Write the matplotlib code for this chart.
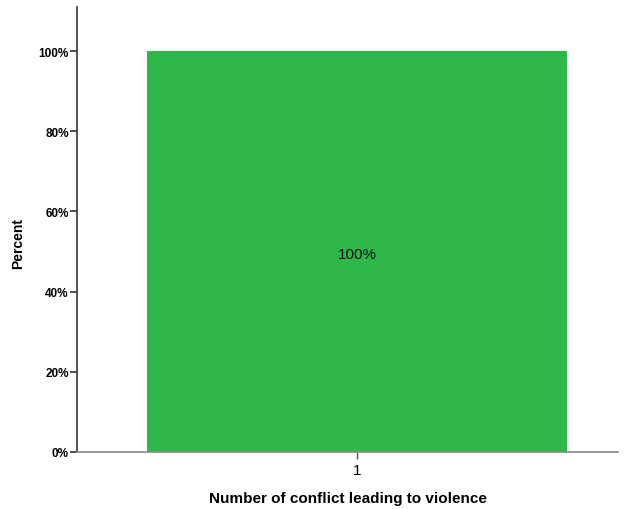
import matplotlib.pyplot as plt
import numpy as np

plt.rcParams['font.family'] = ['Liberation Sans', 'DejaVu Sans']

categories = ['1']
percent = [100]

fig = plt.figure(figsize=(6.32, 5.1), dpi=100)
ax = fig.add_axes([77/632, 57/510, 541/632, 445/510])

x = np.arange(len(categories))
bars = ax.bar(x, percent, width=1.0, color='#2fb84a', edgecolor='none')

for xi, v in zip(x, percent):
    ax.text(xi, v/2 - 0.7, '%d%%' % v, ha='center', va='center', fontsize=11, color='#111111')

ax.set_xlim(-0.667, 0.621)
ax.set_ylim(0, 111)
ax.set_xticks(x)
ax.set_xticklabels(categories, fontsize=11)
ax.set_yticks([0, 20, 40, 60, 80, 100])
ax.set_yticklabels(['%d%%' % t for t in [0, 20, 40, 60, 80, 100]], fontsize=8.5, fontweight='bold')

ax.spines['top'].set_visible(False)
ax.spines['right'].set_visible(False)
ax.spines['left'].set_color('#333333')
ax.spines['bottom'].set_color('#888888')
ax.spines['left'].set_linewidth(1.2)
ax.spines['bottom'].set_linewidth(1.2)
ax.tick_params(axis='y', length=5, width=1.2, color='#333333', pad=1)
ax.tick_params(axis='x', length=5, width=1, color='#555555', pad=3)

ax.set_ylabel('Percent', fontsize=10, fontweight='bold', labelpad=8)
ax.yaxis.set_label_coords(-0.095, 0.47)
ax.set_xlabel('Number of conflict leading to violence', fontsize=11, fontweight='bold', labelpad=10)

plt.savefig('out.png', dpi=100)
